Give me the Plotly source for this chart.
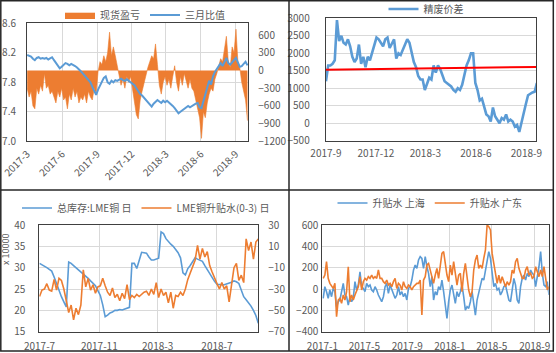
import plotly.graph_objects as go
import pandas as pd

W, H = 556, 353

# ---------------- Panel 1 : 现货盈亏 / 三月比值 ----------------
p1_start = "2017-03-01"
p1_spot_pl = [
    -300, -450, -350, -600, -650, -300, -400, -250, -350, -50,
    -300, -250, -400, -350, -450, -550, -350, -450, -300, -500,
    -450, -650, -400, -500, -300, -450, -350, -550, -450, -500,
    -400, -550, -350, -450, -500, -300, -400, -20, 150, 100,
    250, 150, 300, 650, 250, 400, 250, 100, -100, -250,
    -150, -300, -100, -200, -100, -300, -550, -750, -820, -500,
    -350, -200, -100, 50, 150, 250, 200, 450, 100, -250,
    -400, -200, -100, -250, -150, -300, -100, 80, -200, -350,
    -100, -250, -50, -200, -300, -150, -300, -350, -500, -600,
    -800, -1150, -700, -800, -550, -400, -300, -350, -150, -50,
    80, 200, 150, 350, 580, 150, 50, 400, 300, 700,
    150, 50, -200, -350, -500, -850]
p1_ratio = [
    8.17, 8.16, 8.15, 8.12, 8.10, 8.13, 8.14, 8.12, 8.13, 8.12,
    8.13, 8.11, 8.13, 8.14, 8.10, 8.06, 8.03, 7.99, 8.01, 8.03,
    8.06, 8.05, 8.03, 8.05, 8.04, 8.02, 8.00, 7.98, 7.95, 7.92,
    7.89, 7.85, 7.83, 7.80, 7.74, 7.68, 7.63, 7.70, 7.76, 7.80,
    7.86, 7.88, 7.80, 7.78, 7.82, 7.80, 7.83, 7.82, 7.84, 7.85,
    7.83, 7.82, 7.84, 7.82, 7.80, 7.77, 7.76, 7.72, 7.68, 7.64,
    7.62, 7.59, 7.57, 7.54, 7.50, 7.47, 7.51, 7.53, 7.56, 7.54,
    7.52, 7.55, 7.53, 7.55, 7.53, 7.51, 7.48, 7.45, 7.41, 7.38,
    7.40, 7.42, 7.45, 7.47, 7.48, 7.46, 7.48, 7.49, 7.51, 7.52,
    7.46, 7.45, 7.55, 7.64, 7.72, 7.82, 7.77, 7.88, 7.94, 7.98,
    8.02, 8.06, 8.02, 8.08, 8.13, 8.06, 8.04, 8.07, 8.10, 8.13,
    8.07, 8.01, 8.02, 8.05, 8.08, 8.03]
p1_tickvals = ["2017-03-01", "2017-06-01", "2017-09-01", "2017-12-01",
               "2018-03-01", "2018-06-01", "2018-09-01"]
p1_ticktext = ["2017-3", "2017-6", "2017-9", "2017-12", "2018-3", "2018-6", "2018-9"]
p1_dates = pd.date_range(p1_start, periods=len(p1_ratio), freq="121h")

# ---------------- Panel 2 : 精废价差 ----------------
p2_start = "2017-09-01"
p2_spread = [
    1200, 1650, 1650, 1700, 1800, 2950, 2350, 2500, 2300, 2250,
    2400, 2200, 1900, 1750, 1850, 2250, 1700, 1900, 1600, 1900,
    1800, 2000, 2200, 2450, 2400, 2300, 2200, 2400, 2450, 2150,
    2300, 2400, 1850, 2000, 1950, 2100, 2250, 2400, 2300, 2000,
    1750, 1600, 1350, 1250, 1250, 950, 1100, 1300, 1250, 1650,
    1450, 1650, 1550, 1350, 1200, 1150, 1100, 1050, 950, 900,
    1000, 950, 1100, 1350, 1650, 1800, 2000, 2000, 1150, 950,
    650, 700, 450, 250, 200, 50, 450, 200, 100, 0,
    150, 100, 250, 50, 100, 50, -100, -50, -250, 50,
    350, 550, 800, 850, 880, 900, 1150]
p2_trend_dates = ["2017-09-01", "2018-09-19"]
p2_trend = [1530, 1610]
p2_tickvals = ["2017-09-01", "2017-12-01", "2018-03-01", "2018-06-01", "2018-09-01"]
p2_ticktext = ["2017-9", "2017-12", "2018-3", "2018-6", "2018-9"]
p2_dates = pd.date_range(p2_start, periods=len(p2_spread), freq="4D")

# ---------------- Panel 3 : LME 库存 / 升贴水 ----------------
p3_start = "2017-07-01"
p3_stock = [
    31.0, 30.7, 30.3, 30.0, 29.6, 29.2, 27.8, 26.3, 24.5, 23.2,
    22.0, 20.8, 31.3, 31.0, 30.5, 30.0, 29.5, 29.0, 28.6, 28.2,
    27.5, 26.9, 26.3, 25.8, 24.6, 23.5, 21.3, 18.5, 18.9, 19.4,
    19.6, 20.0, 20.0, 20.2, 20.1, 20.3, 20.4, 20.7, 31.0, 31.0,
    29.8, 32.0, 33.6, 33.5, 33.4, 32.5, 31.8, 31.8, 32.0, 32.2,
    38.4, 38.0, 36.8, 36.0, 35.5, 35.0, 34.2, 33.5, 32.3, 28.8,
    28.3, 29.8, 30.5, 31.5, 32.3, 32.0, 31.8, 31.5, 30.5, 29.5,
    28.5, 27.5, 26.8, 26.1, 26.0, 26.0, 26.0, 26.2, 26.3, 26.6,
    26.9, 26.7, 26.3, 24.6, 23.2, 22.5, 21.8, 21.0, 20.0, 18.8,
    17.0]
p3_premium = [
    -37, -31, -30, -25, -31, -32, -21, -31, -20, -22,
    -30, -42, -52, -45, -59, -48, -54, -45, -12, -28,
    -20, -31, -26, -34, -28, -27, -20, -27, -33, -36,
    -29, -38, -35, -41, -34, -39, -26, -40, -36, -38,
    -35, -37, -35, -33, -32, -36, -30, -35, -24, -38,
    -30, -36, -33, -43, -33, -48, -36, -37, -33, -36,
    -30, -21, -15, -8, -3, 11, -2, 8, 0, 5,
    -8, -14, -20, -25, -30, -24, -30, -27, -42, -25,
    -10, -6, -22, -17, -24, 17, 6, 14, -2, 14,
    17]
p3_tickvals = ["2017-07-01", "2017-11-01", "2018-03-01", "2018-07-01"]
p3_ticktext = ["2017-7", "2017-11", "2018-3", "2018-7"]
p3_dates = pd.date_range(p3_start, periods=len(p3_stock), freq="5D")

# ---------------- Panel 4 : 升贴水 上海 / 广东 ----------------
p4_start = "2017-01-03"
p4_shanghai = [
    -87, 22, -25, -87, -9, -72, 6, -25, -165, -119,
    -103, -25, 53, -56, -72, -150, -72, -119, -87, 69,
    -9, 37, 162, 22, 6, -25, 53, 22, 37, -9,
    -25, 22, -9, -56, -87, -119, -72, 22, 53, -41,
    37, -9, -56, -87, -56, 22, -56, -25, -72, -41,
    -103, 6, 22, 84, 178, 225, 194, 272, 303, 287,
    194, 303, 209, 147, 22, 116,
    -103, -25, -56, 22, -9, 84, -25, -165, -275, -119,
    -9, 37, -41, -134, -25, -72, -25, 37, -72, -197,
    -165, -181, -119, -25, -134, -244, -103, -41, 22, 100,
    84, 169, 272, 350, 287, 147, 22, 53, -9, 6,
    -56, -25, 22, 37, -41, -103, -119, -25, 100, 37,
    -103, -134, 22, 100, 131, 84, 147, 116, 178, 147,
    131, 22, 100, 209, 350, 147, 37, 22, 69, -56]
p4_guangdong = [
    100, 131, 256, 100, 53, 22, 6, 53, -259, -103,
    -87, -134, -56, -103, -25, 209, -119, -56, -103, -56,
    -9, 22, 116, -9, 69, 100, 84, 116, 100, 131,
    100, 116, 100, 178, 100, 100, 69, 53, 84, 37,
    53, 22, 69, 100, 6, 53, 37, -9, 69, 22,
    6, 37, 22, -9, 22, 37, 53, 53, 84, -244,
    84, 116, 225, 240, 178, 116,
    53, 131, 194, 100, 240, 334, 350, 209, 131, 69,
    225, 131, 256, 147, 37, 131, 147, -25, 147, 240,
    84, -9, -72, -25, 178, 272, 319, 194, 225, 194,
    287, 366, 600, 584, 553, 334, 240, 147, 53, 131,
    53, 116, 69, 22, 69, 37, 69, 178, 147, 256,
    287, 194, 147, 100, 100, 178, 209, 131, 147, 100,
    116, 209, 162, 116, 178, 116, 209, 116, -9, 22]
p4_tickvals = ["2017-01-01", "2017-05-01", "2017-09-01", "2018-01-01",
               "2018-05-01", "2018-09-01"]
p4_ticktext = ["2017-1", "2017-5", "2017-9", "2018-1", "2018-5", "2018-9"]
p4_dates = pd.date_range(p4_start, periods=len(p4_shanghai), freq="115h")

BLUE = "#5B9BD5"
ORANGE = "#ED7D31"
GRID = "#D9D9D9"
TXT = "#595959"
FRAME = "#404040"
FONT = "Noto Sans CJK SC"


def px(v):
    return v / W


def py(v):
    return 1 - v / H


fig = go.Figure()

# Panel 1
fig.add_trace(go.Scatter(x=p1_dates, y=p1_spot_pl, name="现货盈亏", xaxis="x", yaxis="y",
                         mode="lines", fill="tozeroy", fillcolor=ORANGE,
                         line=dict(color=ORANGE, width=0.6), legend="legend"))
fig.add_trace(go.Scatter(x=p1_dates, y=p1_ratio, name="三月比值", xaxis="x", yaxis="y2",
                         mode="lines", line=dict(color=BLUE, width=2), legend="legend"))
# Panel 2
fig.add_trace(go.Scatter(x=p2_dates, y=p2_spread, name="精废价差", xaxis="x2", yaxis="y3",
                         mode="lines", line=dict(color=BLUE, width=2.6), legend="legend2"))
fig.add_trace(go.Scatter(x=p2_trend_dates, y=p2_trend, name="trend", xaxis="x2", yaxis="y3",
                         mode="lines", line=dict(color="#FF0000", width=2), showlegend=False))
# Panel 3
fig.add_trace(go.Scatter(x=p3_dates, y=p3_stock, name="总库存:LME铜 日", xaxis="x3", yaxis="y4",
                         mode="lines", line=dict(color=BLUE, width=1.6), legend="legend3"))
fig.add_trace(go.Scatter(x=p3_dates, y=p3_premium, name="LME铜升贴水(0-3) 日", xaxis="x3", yaxis="y5",
                         mode="lines", line=dict(color=ORANGE, width=1.6), legend="legend3"))
# Panel 4
fig.add_trace(go.Scatter(x=p4_dates, y=p4_shanghai, name="升贴水 上海", xaxis="x4", yaxis="y6",
                         mode="lines", line=dict(color=BLUE, width=1.6), legend="legend4"))
fig.add_trace(go.Scatter(x=p4_dates, y=p4_guangdong, name="升贴水 广东", xaxis="x4", yaxis="y6",
                         mode="lines", line=dict(color=ORANGE, width=1.6), legend="legend4"))

tickfont = dict(family=FONT, size=10, color=TXT)


def xax(domain, anchor, tv, tt, rng, grid=True, angle=0, standoff=2):
    return dict(domain=domain, anchor=anchor, type="date", range=rng,
                tickvals=tv, ticktext=tt, tickangle=angle, showgrid=grid,
                gridcolor=GRID, gridwidth=1, showline=True, linecolor=FRAME,
                linewidth=1, mirror=True, ticks="", tickfont=tickfont,
                automargin=False, zeroline=False, fixedrange=True,
                ticklabelstandoff=standoff)


def yax(domain, anchor, rng, dtick, tick0=0, side="left", grid=True, overlay=None,
        standoff=6, fmt=None):
    d = dict(domain=domain, anchor=anchor, range=rng, dtick=dtick, tick0=tick0, side=side,
             showgrid=grid, gridcolor=GRID, gridwidth=1, zeroline=False,
             ticks="", tickfont=tickfont, automargin=False,
             ticklabelstandoff=standoff, fixedrange=True)
    if overlay:
        d["overlaying"] = overlay
        d["showline"] = False
    else:
        d["showline"] = True
        d["linecolor"] = FRAME
        d["linewidth"] = 1
        d["mirror"] = True
    if fmt:
        d["tickformat"] = fmt
    return d


d1x = [px(27), px(248.3)]
d1y = [py(141.3), py(23.3)]
d2x = [px(325.7), px(536.3)]
d2y = [py(140.7), py(18.3)]
d3x = [px(39.3), px(258.3)]
d3y = [py(331.7), py(225)]
d4x = [px(322.3), px(548.7)]
d4y = [py(331.7), py(225)]

legend_common = dict(orientation="h", bgcolor="rgba(0,0,0,0)", xanchor="center",
                     yanchor="middle", font=dict(family=FONT, size=10, color=TXT),
                     itemwidth=30, tracegroupgap=0)

fig.update_layout(
    width=W, height=H, autosize=False,
    margin=dict(l=0, r=0, t=0, b=0, autoexpand=False),
    paper_bgcolor="white", plot_bgcolor="white",
    font=dict(family=FONT, size=10, color=TXT),
    xaxis=xax(d1x, "y", p1_tickvals, p1_ticktext, ["2017-02-28 12:00", "2018-10-04"], angle=-45),
    yaxis=yax(d1y, "x", [-1200, 800], 300, tick0=0, side="right", grid=False, standoff=7),
    yaxis2=yax(d1y, "x", [7.0, 8.6], 0.4, tick0=7.0, side="left", grid=True, overlay="y",
               standoff=10, fmt=".1f"),
    xaxis2=xax(d2x, "y3", p2_tickvals, p2_ticktext, ["2017-08-31 12:00", "2018-09-19"], grid=False,
               standoff=3),
    yaxis3=yax(d2y, "x2", [-500, 3000], 500, standoff=13),
    xaxis3=xax(d3x, "y4", p3_tickvals, p3_ticktext, ["2017-06-30 12:00", "2018-09-24"], standoff=5),
    yaxis4=yax(d3y, "x3", [15, 40], 5, standoff=11),
    yaxis5=yax(d3y, "x3", [-70, 30], 20, tick0=-70, side="right", grid=False, overlay="y4",
               standoff=9),
    xaxis4=xax(d4x, "y6", p4_tickvals, p4_ticktext, ["2016-12-31 12:00", "2018-10-11"], standoff=5),
    yaxis6=yax(d4y, "x4", [-400, 600], 200, standoff=1),
    legend=dict(legend_common, x=px(145), y=py(15)),
    legend2=dict(legend_common, x=px(426), y=py(9)),
    legend3=dict(legend_common, x=px(146), y=py(208)),
    legend4=dict(legend_common, x=px(430), y=py(203)),
    showlegend=True,
)

# chart frames / dividers
frame_line = dict(color="#262626", width=1.5)
fig.add_shape(type="rect", xref="paper", yref="paper", x0=px(0.8), x1=px(553.3),
              y0=py(351), y1=py(0.8), line=frame_line, fillcolor="rgba(0,0,0,0)", layer="above")
fig.add_shape(type="line", xref="paper", yref="paper", x0=px(289), x1=px(289),
              y0=py(351), y1=py(0.8), line=frame_line, layer="above")
fig.add_shape(type="line", xref="paper", yref="paper", x0=px(0.8), x1=px(553.3),
              y0=py(190), y1=py(190), line=frame_line, layer="above")

fig.add_annotation(text="x 10000", xref="paper", yref="paper", x=px(6), y=py(250),
                   xanchor="center", yanchor="middle",
                   textangle=-90, showarrow=False, font=dict(family=FONT, size=9, color=TXT))

fig.write_html("out.html")
